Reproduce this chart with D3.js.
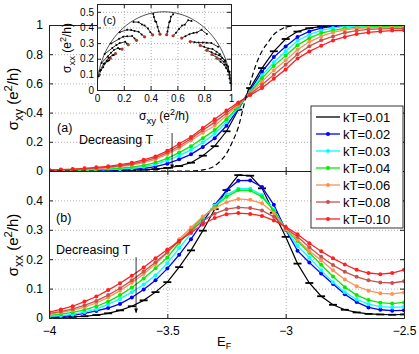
<!DOCTYPE html>
<html>
<head>
<meta charset="utf-8">
<style>
  body { margin: 0; background: #fff; }
  svg text { font-family: "Liberation Sans", Arial, Helvetica, sans-serif; fill: #000; }
</style>
</head>
<body>
<div id="chart"></div>
<script src="https://d3js.org/d3.v7.min.js"></script>
<script>

// Fermi energy grid shared by every curve
var energies = [-4.00, -3.95, -3.90, -3.85, -3.80, -3.75, -3.70, -3.65, -3.60, -3.55, -3.50,
                -3.45, -3.40, -3.35, -3.30, -3.25, -3.20, -3.15, -3.10, -3.05, -3.00,
                -2.95, -2.90, -2.85, -2.80, -2.75, -2.70, -2.65, -2.60, -2.55, -2.50];

var kTLabels = ["kT=0.01", "kT=0.02", "kT=0.03", "kT=0.04", "kT=0.06", "kT=0.08", "kT=0.10"];
var kTColors = ["#000000", "#0000ff", "#00ffff", "#00ee00", "#ff9050", "#c85252", "#ff2020"];

// sigma_xy (e^2/h), panel (a)
var sxy001 = [0.000,0.000,0.001,0.001,0.002,0.003,0.004,0.006,0.009,0.013,0.021,0.034,0.057,0.105,0.170,0.272,0.420,0.568,0.705,0.820,0.904,0.955,0.978,0.989,0.994,0.997,0.998,0.999,0.999,1.000,1.000];
var sxy002 = [0.000,0.001,0.001,0.002,0.003,0.005,0.007,0.011,0.018,0.030,0.050,0.080,0.114,0.165,0.225,0.310,0.425,0.552,0.680,0.780,0.853,0.918,0.956,0.979,0.990,0.996,0.998,0.999,1.000,1.000,1.000];
var sxy003 = [0.001,0.002,0.003,0.004,0.006,0.009,0.013,0.019,0.029,0.046,0.072,0.105,0.145,0.195,0.255,0.335,0.434,0.545,0.655,0.745,0.820,0.892,0.934,0.963,0.979,0.989,0.993,0.995,0.996,0.996,0.996];
var sxy004 = [0.002,0.003,0.004,0.006,0.009,0.013,0.019,0.027,0.039,0.058,0.087,0.126,0.170,0.225,0.280,0.355,0.442,0.539,0.635,0.720,0.790,0.862,0.910,0.945,0.963,0.977,0.984,0.987,0.988,0.988,0.988];
var sxy006 = [0.004,0.006,0.008,0.011,0.015,0.021,0.030,0.041,0.057,0.080,0.116,0.157,0.210,0.262,0.310,0.380,0.452,0.532,0.612,0.690,0.758,0.830,0.885,0.922,0.949,0.967,0.977,0.981,0.982,0.983,0.983];
var sxy008 = [0.006,0.008,0.011,0.015,0.020,0.027,0.036,0.048,0.066,0.090,0.126,0.170,0.222,0.280,0.333,0.398,0.461,0.526,0.590,0.660,0.728,0.800,0.855,0.895,0.922,0.947,0.962,0.970,0.973,0.975,0.975];
var sxy010 = [0.008,0.010,0.013,0.018,0.025,0.032,0.043,0.056,0.077,0.100,0.138,0.187,0.233,0.295,0.355,0.415,0.470,0.520,0.568,0.632,0.696,0.770,0.819,0.858,0.894,0.918,0.938,0.949,0.956,0.962,0.964];

// zero temperature sigma_xy (dashed)
var dashEnergies = [-4.00, -3.40, -3.35, -3.30, -3.275, -3.25, -3.225, -3.20, -3.175, -3.15, -3.125,
                    -3.10, -3.075, -3.05, -3.025, -3.00, -2.95, -2.90, -2.50];
var dashSxy = [0.000, 0.000, 0.008, 0.035, 0.070, 0.120, 0.200, 0.300, 0.460, 0.600, 0.730,
               0.820, 0.880, 0.935, 0.965, 0.985, 0.997, 1.000, 1.000];

// sigma_xx (e^2/h), panel (b)
var sxx001 = [0.001,0.002,0.004,0.006,0.010,0.016,0.026,0.040,0.060,0.088,0.122,0.173,0.230,0.297,0.370,0.435,0.486,0.484,0.441,0.358,0.276,0.185,0.119,0.074,0.045,0.028,0.019,0.014,0.012,0.011,0.012];
var sxx002 = [0.003,0.005,0.009,0.016,0.024,0.034,0.048,0.070,0.097,0.128,0.168,0.215,0.268,0.327,0.385,0.434,0.467,0.468,0.446,0.385,0.300,0.229,0.189,0.151,0.116,0.081,0.054,0.036,0.028,0.025,0.026];
var sxx003 = [0.006,0.008,0.012,0.020,0.030,0.046,0.065,0.088,0.114,0.145,0.186,0.238,0.288,0.340,0.383,0.419,0.440,0.440,0.418,0.368,0.302,0.245,0.205,0.162,0.122,0.088,0.063,0.047,0.039,0.036,0.038];
var sxx004 = [0.009,0.013,0.019,0.028,0.040,0.056,0.078,0.104,0.134,0.169,0.206,0.256,0.300,0.343,0.378,0.412,0.435,0.434,0.412,0.365,0.303,0.262,0.222,0.181,0.141,0.105,0.078,0.061,0.052,0.049,0.053];
var sxx006 = [0.013,0.019,0.026,0.037,0.051,0.070,0.093,0.120,0.150,0.184,0.222,0.268,0.308,0.345,0.373,0.394,0.405,0.402,0.390,0.357,0.303,0.266,0.228,0.196,0.162,0.131,0.108,0.093,0.084,0.082,0.087];
var sxx008 = [0.016,0.022,0.031,0.043,0.058,0.078,0.101,0.128,0.158,0.190,0.224,0.262,0.297,0.330,0.355,0.370,0.376,0.374,0.366,0.344,0.306,0.276,0.241,0.208,0.180,0.157,0.140,0.128,0.121,0.119,0.125];
var sxx010 = [0.020,0.029,0.040,0.056,0.073,0.095,0.118,0.144,0.172,0.203,0.233,0.262,0.290,0.318,0.340,0.353,0.357,0.354,0.347,0.332,0.310,0.285,0.254,0.227,0.203,0.182,0.164,0.153,0.149,0.153,0.164];

// energies whose temperature flow is shown in inset (c)
var flowEnergies = [-3.55, -3.50, -3.45, -3.40, -3.35, -3.30, -3.25, -3.20, -3.15, -3.10,
                    -3.05, -3.00, -2.95, -2.90, -2.85, -2.80];

// tick values
var xTicks = [-4, -3.5, -3, -2.5];
var yTicksA = [0, 0.2, 0.4, 0.6, 0.8, 1];
var yTicksB = [0, 0.1, 0.2, 0.3, 0.4];
var xTicksC = [0, 0.2, 0.4, 0.6, 0.8, 1];
var yTicksC = [0, 0.1, 0.2, 0.3, 0.4, 0.5];

var sxyAll = [sxy001, sxy002, sxy003, sxy004, sxy006, sxy008, sxy010];
var sxxAll = [sxx001, sxx002, sxx003, sxx004, sxx006, sxx008, sxx010];

var width = 419, height = 354;
var svg = d3.select("#chart").append("svg")
    .attr("width", width).attr("height", height);

// scales
var x = d3.scaleLinear().domain([-4, -2.5]).range([49, 404]);
var yA = d3.scaleLinear().domain([0, 1]).range([171, 25]);
var yB = d3.scaleLinear().domain([0, 0.5]).range([318, 171]);
var xC = d3.scaleLinear().domain([0, 1]).range([97, 231]);
var yC = d3.scaleLinear().domain([0, 0.55]).range([90, 4]);

var fmt = d3.format("");

svg.append("defs").append("marker")
    .attr("id", "arrow").attr("viewBox", "0 0 10 10")
    .attr("refX", 9).attr("refY", 5)
    .attr("markerWidth", 6).attr("markerHeight", 6)
    .attr("orient", "auto")
  .append("path").attr("d", "M0,1 L10,5 L0,9 z").attr("fill", "#000");

function clip(id, xs, ys) {
  svg.select("defs").append("clipPath").attr("id", id)
    .append("rect")
      .attr("x", xs.range()[0]).attr("y", ys.range()[1])
      .attr("width", xs.range()[1] - xs.range()[0])
      .attr("height", ys.range()[0] - ys.range()[1]);
}
clip("clipA", x, yA);
clip("clipB", x, yB);
clip("clipC", xC, yC);

// white background + dotted grid
function frame(xs, ys, xt, yt) {
  var w = xs.range()[1] - xs.range()[0], h = ys.range()[0] - ys.range()[1];
  var g = svg.append("g");
  g.append("rect").attr("x", xs.range()[0]).attr("y", ys.range()[1])
    .attr("width", w).attr("height", h).attr("fill", "#fff");
  g.append("g").attr("transform", "translate(0," + ys.range()[0] + ")")
    .call(d3.axisBottom(xs).tickValues(xt).tickSize(-h).tickFormat(""))
    .call(s => s.select(".domain").remove())
    .selectAll("line").attr("stroke", "#b0b0b0").attr("stroke-dasharray", "1,2");
  g.append("g").attr("transform", "translate(" + xs.range()[0] + ",0)")
    .call(d3.axisLeft(ys).tickValues(yt).tickSize(-w).tickFormat(""))
    .call(s => s.select(".domain").remove())
    .selectAll("line").attr("stroke", "#b0b0b0").attr("stroke-dasharray", "1,2");
  return g;
}

// box with inward ticks on all four sides
function axes(xs, ys, xt, yt, showX, fontSize, pad) {
  var g = svg.append("g");
  g.append("g").attr("transform", "translate(0," + ys.range()[0] + ")")
    .call(d3.axisBottom(xs).tickValues(xt).tickSize(-4).tickPadding(pad + 2)
      .tickFormat(showX ? fmt : ""));
  g.append("g").attr("transform", "translate(0," + ys.range()[1] + ")")
    .call(d3.axisTop(xs).tickValues(xt).tickSize(-4).tickFormat(""));
  g.append("g").attr("transform", "translate(" + xs.range()[0] + ",0)")
    .call(d3.axisLeft(ys).tickValues(yt).tickSize(-4).tickPadding(pad).tickFormat(fmt));
  g.append("g").attr("transform", "translate(" + xs.range()[1] + ",0)")
    .call(d3.axisRight(ys).tickValues(yt).tickSize(-4).tickFormat(""));
  g.selectAll(".domain").attr("stroke", "#222").attr("stroke-width", 1);
  g.selectAll(".tick line").attr("stroke", "#222");
  g.selectAll("text").attr("font-size", fontSize).attr("fill", "#000");
  return g;
}

function drawCurves(ys, arrays, clipId) {
  var g = svg.append("g").attr("clip-path", "url(#" + clipId + ")");
  arrays.forEach(function (vals, k) {
    var line = d3.line().x((d, i) => x(energies[i])).y(d => ys(d));
    g.append("path").datum(vals)
      .attr("d", line).attr("fill", "none")
      .attr("stroke", kTColors[k]).attr("stroke-width", k === 0 ? 1.2 : 1.3);
    if (k === 0) {
      g.selectAll(null).data(vals).enter().append("line")
        .attr("x1", (d, i) => x(energies[i]) - 4)
        .attr("x2", (d, i) => x(energies[i]) + 4)
        .attr("y1", d => ys(d)).attr("y2", d => ys(d))
        .attr("stroke", "#000").attr("stroke-width", 1.8);
    } else {
      g.selectAll(null).data(vals).enter().append("circle")
        .attr("cx", (d, i) => x(energies[i]))
        .attr("cy", d => ys(d))
        .attr("r", 2).attr("fill", kTColors[k]);
    }
  });
  return g;
}

// ---------- panel (b) ----------
frame(x, yB, [-3.5, -3], yTicksB.slice(1));
drawCurves(yB, sxxAll, "clipB");
axes(x, yB, xTicks, yTicksB, true, 12, 6);

// ---------- panel (a) ----------
frame(x, yA, [-3.5, -3], [0.2, 0.4, 0.6, 0.8]);
var curvesA = drawCurves(yA, sxyAll, "clipA");
curvesA.append("path").datum(dashSxy)
  .attr("d", d3.line().x((d, i) => x(dashEnergies[i])).y(d => yA(d)).curve(d3.curveMonotoneX))
  .attr("fill", "none").attr("stroke", "#000").attr("stroke-width", 1.2)
  .attr("stroke-dasharray", "5,3");
axes(x, yA, xTicks, yTicksA, false, 12, 6);

// annotations
function label(g, px, py, txt, size, anchor) {
  return g.append("text").attr("x", px).attr("y", py)
    .attr("font-size", size).attr("text-anchor", anchor || "start").text(txt);
}
label(svg, x(-3.966), yA(0.27), "(a)", 12.5);
label(svg, x(-3.873), yA(0.185), "Decreasing T", 12.5);
svg.append("line")
  .attr("x1", x(-3.48)).attr("x2", x(-3.48))
  .attr("y1", yA(0.26)).attr("y2", yA(0.015))
  .attr("stroke", "#000").attr("stroke-width", 0.8).attr("marker-end", "url(#arrow)");

label(svg, x(-3.97), yB(0.326), "(b)", 12.5);
label(svg, x(-3.97), yB(0.217), "Decreasing T", 12.5);
svg.append("line")
  .attr("x1", x(-3.632)).attr("x2", x(-3.632))
  .attr("y1", yB(0.207)).attr("y2", yB(0.018))
  .attr("stroke", "#000").attr("stroke-width", 0.8).attr("marker-end", "url(#arrow)");

// axis titles
function sigmaLabel(g, px, py, sub, size, rotate) {
  var t = g.append("text").attr("font-size", size).attr("text-anchor", "middle")
    .attr("transform", "translate(" + px + "," + py + ")" + (rotate ? " rotate(-90)" : ""));
  t.append("tspan").text("\u03c3");
  t.append("tspan").attr("font-size", size * 0.8).attr("dy", size * 0.3).text(sub);
  t.append("tspan").attr("dy", -size * 0.3).text(" (e");
  t.append("tspan").attr("font-size", size * 0.75).attr("dy", -size * 0.38).text("2");
  t.append("tspan").attr("dy", size * 0.38).text("/h)");
  return t;
}
sigmaLabel(svg, 18, 99, "xy", 15, true);
sigmaLabel(svg, 18, 245, "xx", 15, true);

var ef = svg.append("text").attr("x", 217).attr("y", 346).attr("font-size", 13);
ef.append("tspan").text("E");
ef.append("tspan").attr("font-size", 9).attr("dy", 3).text("F");

// ---------- legend ----------
var leg = svg.append("g");
leg.append("rect").attr("x", 311).attr("y", 106).attr("width", 92).attr("height", 122)
  .attr("fill", "#fff").attr("stroke", "#000").attr("stroke-width", 0.8);
kTLabels.forEach(function (lab, k) {
  var yy = 117 + k * 17;
  leg.append("line").attr("x1", 316).attr("x2", 340).attr("y1", yy).attr("y2", yy)
    .attr("stroke", kTColors[k]).attr("stroke-width", 1.3);
  if (k > 0) leg.append("circle").attr("cx", 328).attr("cy", yy).attr("r", 2).attr("fill", kTColors[k]);
  leg.append("text").attr("x", 343).attr("y", yy + 4.5).attr("font-size", 13).text(lab);
});

// ---------- inset (c) ----------
frame(xC, yC, [0.2, 0.4, 0.6, 0.8], [0.1, 0.2, 0.3, 0.4, 0.5]);
var gC = svg.append("g").attr("clip-path", "url(#clipC)");
var semi = d3.range(0, 181, 2).map(a => [0.5 - 0.5 * Math.cos(a * Math.PI / 180), 0.5 * Math.sin(a * Math.PI / 180)]);
gC.append("path").datum(semi)
  .attr("d", d3.line().x(d => xC(d[0])).y(d => yC(d[1])))
  .attr("fill", "none").attr("stroke", "#000").attr("stroke-width", 0.7);
flowEnergies.forEach(function (e) {
  var i = energies.findIndex(v => Math.abs(v - e) < 1e-6);
  var pts = sxyAll.map((a, k) => [a[i], sxxAll[k][i]]);
  gC.append("path").datum(pts)
    .attr("d", d3.line().x(d => xC(d[0])).y(d => yC(d[1])))
    .attr("fill", "none").attr("stroke", "#000").attr("stroke-width", 0.8);
  gC.selectAll(null).data(pts).enter().append("circle")
    .attr("cx", d => xC(d[0])).attr("cy", d => yC(d[1]))
    .attr("r", (d, k) => k === pts.length - 1 ? 1.6 : 1)
    .attr("fill", (d, k) => k === pts.length - 1 ? "#a83a2a" : "#000");
});
axes(xC, yC, xTicksC, yTicksC, true, 10, 3);
label(svg, 103, 24, "(c)", 11);
sigmaLabel(svg, 164, 120, "xy", 12, false);
sigmaLabel(svg, 71, 48, "xx", 12, true);

</script>
</body>
</html>
